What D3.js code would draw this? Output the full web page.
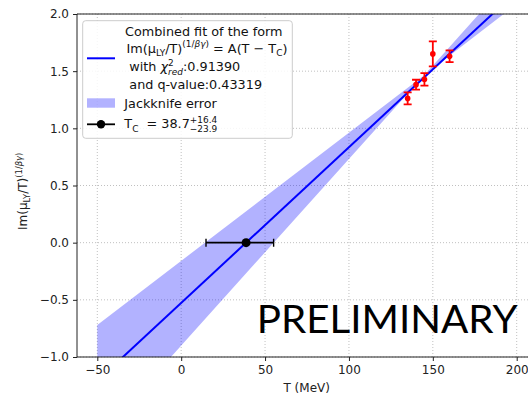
<!DOCTYPE html>
<html>
<head>
<meta charset="utf-8">
<script src="https://cdn.jsdelivr.net/npm/d3@7"></script>
<style>
  html, body { margin: 0; padding: 0; background: #fff; }
  svg { display: block; font-family: "DejaVu Sans", sans-serif; }
  svg text { white-space: pre; }
</style>
</head>
<body>
<svg id="chart" width="528" height="398"></svg>
<script>
// Lattice points: Im(mu_LY/T)^(1/beta gamma) vs temperature
const tempMeV = [135, 140, 145, 150, 160];
const imValue = [1.262, 1.382, 1.428, 1.651, 1.630];
const imError = [0.053, 0.043, 0.055, 0.109, 0.051];

// Combined linear fit A(T - Tc)
const fitT = [-50, 200];
const fitY = [-1.208, 2.197];

// Jackknife envelope of the fit
const bandT = [-50, 145, 200];
const bandLow = [-1.717, 1.467, 2.087];
const bandHigh = [-0.72, 1.467, 2.368];

// Critical temperature with asymmetric error
const tcValue = 38.7;
const tcLow = 14.8;
const tcHigh = 55.1;

const xTicks = [-50, 0, 50, 100, 150, 200];
const yTicks = [-1.0, -0.5, 0.0, 0.5, 1.0, 1.5, 2.0];

const svg = d3.select("#chart");
const plotLeft = 77, plotTop = 14, plotBottom = 357;
const x = d3.scaleLinear().domain([-62.1, 210]).range([plotLeft, plotLeft + 272.1 * 1.6776]);
const y = d3.scaleLinear().domain([-1, 2]).range([plotBottom, plotTop]);
const plotRight = x(210);

const fmtMinus = s => s.replace("-", "\u2212");

// clip region for the plot area
svg.append("defs").append("clipPath").attr("id", "plotClip")
  .append("rect").attr("x", plotLeft).attr("y", plotTop).attr("width", plotRight - plotLeft).attr("height", plotBottom - plotTop);

// grid
const grid = svg.append("g").attr("stroke", "#b0b0b0").attr("stroke-width", 0.8).attr("stroke-dasharray", "1,2");
xTicks.forEach(t => grid.append("line").attr("x1", x(t)).attr("x2", x(t)).attr("y1", plotTop).attr("y2", plotBottom));
yTicks.forEach(t => grid.append("line").attr("x1", plotLeft).attr("x2", plotRight).attr("y1", y(t)).attr("y2", y(t)));

const plot = svg.append("g").attr("clip-path", "url(#plotClip)");

// jackknife band
const bandData = bandT.map((t, i) => ({ t, lo: bandLow[i], hi: bandHigh[i] }));
plot.append("path").datum(bandData)
  .attr("d", d3.area().x(d => x(d.t)).y0(d => y(d.lo)).y1(d => y(d.hi)))
  .attr("fill", "#0000ff").attr("fill-opacity", 0.3).attr("stroke", "none");

// fit line
plot.append("path").datum(fitT.map((t, i) => [t, fitY[i]]))
  .attr("d", d3.line().x(d => x(d[0])).y(d => y(d[1])))
  .attr("fill", "none").attr("stroke", "#0000ff").attr("stroke-width", 2);

// data points with error bars
const pts = plot.append("g").attr("stroke", "#ff0000").attr("fill", "#ff0000");
tempMeV.forEach((t, i) => {
  const cx = x(t), y0 = y(imValue[i] - imError[i]), y1 = y(imValue[i] + imError[i]);
  pts.append("line").attr("x1", cx).attr("x2", cx).attr("y1", y0).attr("y2", y1).attr("stroke-width", 1.8);
  pts.append("line").attr("x1", cx - 4).attr("x2", cx + 4).attr("y1", y0).attr("y2", y0).attr("stroke-width", 1.8);
  pts.append("line").attr("x1", cx - 4).attr("x2", cx + 4).attr("y1", y1).attr("y2", y1).attr("stroke-width", 1.8);
  pts.append("circle").attr("cx", cx).attr("cy", y(imValue[i])).attr("r", 2.8).attr("stroke", "none");
});

// Tc point with horizontal error bar
const tc = plot.append("g").attr("stroke", "#000").attr("fill", "#000");
tc.append("line").attr("x1", x(tcLow)).attr("x2", x(tcHigh)).attr("y1", y(0)).attr("y2", y(0)).attr("stroke-width", 1.8);
[tcLow, tcHigh].forEach(v => tc.append("line").attr("x1", x(v)).attr("x2", x(v)).attr("y1", y(0) - 4).attr("y2", y(0) + 4).attr("stroke-width", 1.4));
tc.append("circle").attr("cx", x(tcValue)).attr("cy", y(0)).attr("r", 4.5).attr("stroke", "none");

// spines
const spines = svg.append("g").attr("stroke", "#222").attr("stroke-width", 1).attr("fill", "none");
spines.append("line").attr("x1", plotLeft).attr("x2", plotLeft).attr("y1", plotTop).attr("y2", plotBottom);
spines.append("line").attr("x1", plotLeft).attr("x2", plotRight).attr("y1", plotBottom).attr("y2", plotBottom);
spines.append("line").attr("x1", plotLeft).attr("x2", plotRight).attr("y1", plotTop).attr("y2", plotTop);

// axes
const xAxis = svg.append("g").attr("transform", `translate(0,${plotBottom})`)
  .call(d3.axisBottom(x).tickValues(xTicks).tickSizeOuter(0).tickSize(4).tickPadding(4).tickFormat(d => fmtMinus(String(d))));
const yAxis = svg.append("g").attr("transform", `translate(${plotLeft},0)`)
  .call(d3.axisLeft(y).tickValues(yTicks).tickSizeOuter(0).tickSize(4).tickPadding(4).tickFormat(d => fmtMinus(d3.format(".1f")(d))));
[xAxis, yAxis].forEach(a => {
  a.select(".domain").remove();
  a.selectAll(".tick line").attr("stroke", "#222");
  a.selectAll(".tick text").attr("fill", "#222").attr("font-size", 12).attr("font-family", "DejaVu Sans");
});

// helper: place sequential text pieces with sub/superscripts
function richText(g, x0, yb, pieces, size) {
  let cx = x0;
  pieces.forEach(p => {
    if (p.stack) {
      const fs = size * 0.7;
      const a = g.append("text").attr("x", cx).attr("y", yb - size * 0.42).attr("font-size", fs).text(p.stack[0]);
      const b = g.append("text").attr("x", cx).attr("y", yb + size * 0.28).attr("font-size", fs).text(p.stack[1]);
      if (p.italicLow) b.attr("font-style", "italic");
      cx += Math.max(a.node().getComputedTextLength(), b.node().getComputedTextLength());
      return;
    }
    const fs = p.sub || p.sup ? size * 0.7 : size;
    const dy = p.sub ? size * 0.28 : p.sup ? -size * 0.42 : 0;
    const t = g.append("text").attr("x", cx).attr("y", yb + dy).attr("font-size", fs).text(p.t);
    if (p.italic) t.attr("font-style", "italic");
    cx += t.node().getComputedTextLength();
  });
}

// legend
const lg = svg.append("g").attr("fill", "#111");
lg.append("rect").attr("x", 82.7).attr("y", 20.7).attr("width", 209.6).attr("height", 117.6)
  .attr("rx", 3).attr("fill", "#fff").attr("fill-opacity", 0.85).attr("stroke", "#ccc").attr("stroke-width", 1);
const LS = 12.8;
lg.append("text").attr("x", 125).attr("y", 35.5).attr("font-size", LS).text("Combined fit of the form");
richText(lg, 126.5, 52.5, [
  { t: "Im(μ" }, { t: "LY", sub: true }, { t: "/T)" }, { t: "(1/", sup: true }, { t: "βγ", sup: true, italic: true },
  { t: ")", sup: true }, { t: " = A(T \u2212 T" }, { t: "C", sub: true }, { t: ")" }
], LS);
richText(lg, 129.3, 71, [
  { t: "with " }, { t: "χ", italic: true }, { stack: ["2", "red"], italicLow: true }, { t: ":0.91390" }
], LS);
lg.append("text").attr("x", 129.3).attr("y", 88.5).attr("font-size", LS).text("and q-value:0.43319");
lg.append("line").attr("x1", 87).attr("x2", 115).attr("y1", 58.3).attr("y2", 58.3).attr("stroke", "#0000ff").attr("stroke-width", 2);
lg.append("rect").attr("x", 87).attr("y", 98.3).attr("width", 28).attr("height", 9.4).attr("fill", "#0000ff").attr("fill-opacity", 0.3);
lg.append("text").attr("x", 124.3).attr("y", 107.7).attr("font-size", LS).text("Jackknife error");
lg.append("line").attr("x1", 87).attr("x2", 115).attr("y1", 124.3).attr("y2", 124.3).attr("stroke", "#000").attr("stroke-width", 1.8);
lg.append("circle").attr("cx", 101).attr("cy", 124.3).attr("r", 4.2).attr("fill", "#000");
richText(lg, 124.3, 128, [
  { t: "T" }, { t: "C", sub: true }, { t: "  = 38.7" }, { stack: ["+16.4", "\u221223.9"] }
], LS);

// axis titles
svg.append("text").attr("x", 306.7).attr("y", 392).attr("text-anchor", "middle").attr("font-size", 12).attr("fill", "#222").text("T (MeV)");
const yl = svg.append("g").attr("transform", "translate(27,0) rotate(-90)").attr("fill", "#222");
richText(yl, -230, 0, [
  { t: "Im(μ" }, { t: "LY", sub: true }, { t: "/T)" }, { t: "(1/", sup: true }, { t: "βγ", sup: true, italic: true }, { t: ")", sup: true }
], 12);

// watermark
svg.append("text").attr("x", 256.7).attr("y", 333).attr("font-family", "Lato, 'Liberation Sans', sans-serif")
  .attr("font-size", 39).attr("fill", "#000").attr("textLength", 261).attr("lengthAdjust", "spacingAndGlyphs")
  .text("PRELIMINARY");
</script>
</body>
</html>
